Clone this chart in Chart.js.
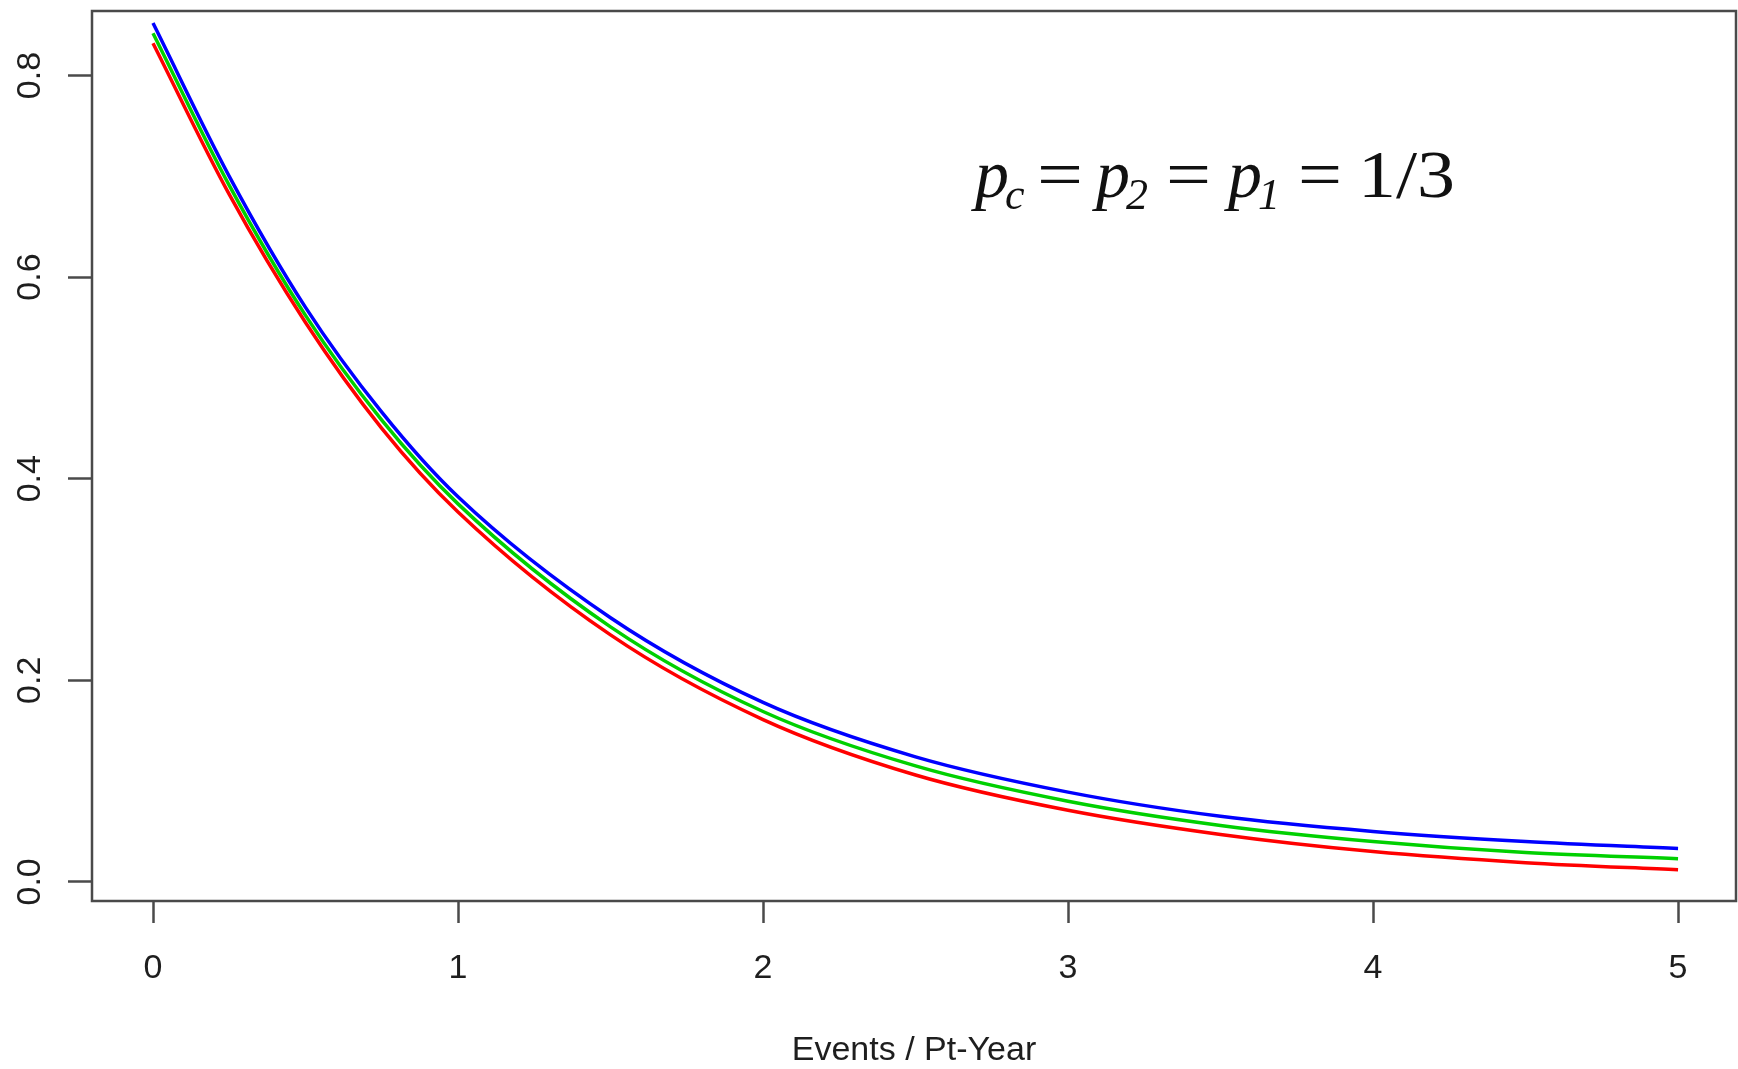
<!DOCTYPE html>
<html>
<head>
<meta charset="utf-8">
<script src="https://cdn.jsdelivr.net/npm/chart.js@4/dist/chart.umd.min.js"></script>
<style>
  html, body { margin: 0; padding: 0; background: #fff; }
  canvas { display: block; }
</style>
</head>
<body>
<canvas id="rateChart" width="1738" height="1069"></canvas>
<script>
// values
const eventRates = [0, 0.25, 0.5, 0.75, 1, 1.5, 2, 2.5, 3, 3.5, 4, 4.5, 5];
const blueSeries  = [0.852, 0.700, 0.570, 0.466, 0.382, 0.262, 0.178, 0.124, 0.089, 0.065, 0.050, 0.040, 0.033];
const greenSeries = [0.842, 0.691, 0.562, 0.458, 0.375, 0.253, 0.169, 0.115, 0.080, 0.056, 0.040, 0.029, 0.023];
const redSeries   = [0.832, 0.682, 0.555, 0.450, 0.367, 0.245, 0.161, 0.106, 0.071, 0.047, 0.030, 0.019, 0.012];
const xTicks = [0, 1, 2, 3, 4, 5];
const yTicks = [0, 0.2, 0.4, 0.6, 0.8];
const xTitle = "Events / Pt-Year";

const axisColor = '#4a4a4a';
const textColor = '#1e1e1e';
const sansFont = "'Liberation Sans', Arial, sans-serif";
const serifFont = "'Liberation Serif', 'DejaVu Serif', serif";

function toPoints(ys) {
    return eventRates.map((x, i) => ({ x: x, y: ys[i] }));
}

function lineSet(label, ys, color) {
    return {
        label: label,
        data: toPoints(ys),
        borderColor: color,
        backgroundColor: color,
        borderWidth: 3.5,
        pointRadius: 0,
        showLine: true,
        fill: false,
        cubicInterpolationMode: 'monotone'
    };
}

// formula pieces: main glyph at x, optional subscript right after it
const formulaParts = [
    { t: 'p',   x: 975,  sub: 'c' },
    { t: '=',   x: 1037, w: 46 },
    { t: 'p',   x: 1096, sub: '2' },
    { t: '=',   x: 1166, w: 45 },
    { t: 'p',   x: 1228, sub: '1' },
    { t: '=',   x: 1298, w: 44 },
    { t: '1/3', x: 1358, w: 97 }
];

// box round the plot area, rotated y labels and the formula
const extrasPlugin = {
    id: 'extras',
    afterDraw(chart) {
        const ctx = chart.ctx;
        const area = chart.chartArea;
        ctx.save();
        ctx.strokeStyle = axisColor;
        ctx.lineWidth = 2.5;
        ctx.strokeRect(area.left, area.top, area.right - area.left, area.bottom - area.top);

        // y tick labels, turned like in R
        const yScale = chart.scales.y;
        ctx.fillStyle = textColor;
        ctx.font = "34px " + sansFont;
        ctx.textAlign = 'center';
        ctx.textBaseline = 'middle';
        yTicks.forEach(v => {
            const py = yScale.getPixelForValue(v);
            ctx.save();
            ctx.translate(31, py);
            ctx.rotate(-Math.PI / 2);
            ctx.fillText(v.toFixed(1), 0, 0);
            ctx.restore();
        });

        // p_c = p_2 = p_1 = 1/3
        const baseY = 197;
        ctx.textAlign = 'left';
        ctx.textBaseline = 'alphabetic';
        ctx.fillStyle = '#111';
        formulaParts.forEach(p => {
            const isP = p.t === 'p';
            ctx.font = (isP ? 'italic ' : '') + '68px ' + serifFont;
            const natural = ctx.measureText(p.t).width;
            const sx = p.w ? p.w / natural : 1;
            ctx.save();
            ctx.translate(p.x, baseY);
            ctx.scale(sx, 1);
            ctx.fillText(p.t, 0, 0);
            ctx.restore();
            if (p.sub) {
                ctx.font = 'italic 44px ' + serifFont;
                ctx.fillText(p.sub, p.x + natural - 4, baseY + 12);
            }
        });
        ctx.restore();
    }
};

const ctx = document.getElementById('rateChart').getContext('2d');
const myChart = new Chart(ctx, {
    type: 'scatter',
    data: {
        datasets: [
            lineSet('red', redSeries, '#ff0000'),
            lineSet('green', greenSeries, '#00d000'),
            lineSet('blue', blueSeries, '#0000ff')
        ]
    },
    options: {
        responsive: false,
        animation: false,
        layout: { padding: { top: 11, right: 2, bottom: 0, left: 0 } },
        plugins: {
            legend: { display: false },
            tooltip: { enabled: false }
        },
        scales: {
            x: {
                type: 'linear',
                min: -0.2,
                max: 5.19,
                afterBuildTicks: s => { s.ticks = xTicks.map(v => ({ value: v })); },
                afterFit: s => { s.height = 168; },
                border: { display: false },
                grid: {
                    drawOnChartArea: false,
                    drawTicks: true,
                    tickLength: 22,
                    tickWidth: 2.5,
                    tickColor: axisColor
                },
                ticks: {
                    color: textColor,
                    font: { size: 34, family: sansFont },
                    padding: 25,
                    maxRotation: 0,
                    callback: v => String(v)
                },
                title: {
                    display: true,
                    text: xTitle,
                    color: textColor,
                    font: { size: 34, family: sansFont, lineHeight: 1.1 },
                    padding: { top: 0, bottom: 0 }
                }
            },
            y: {
                type: 'linear',
                min: -0.019,
                max: 0.864,
                afterBuildTicks: s => { s.ticks = yTicks.map(v => ({ value: v })); },
                afterFit: s => { s.width = 92; },
                border: { display: false },
                grid: {
                    drawOnChartArea: false,
                    drawTicks: true,
                    tickLength: 24,
                    tickWidth: 2.5,
                    tickColor: axisColor
                },
                ticks: {
                    display: true,
                    callback: () => ''
                }
            }
        }
    },
    plugins: [extrasPlugin]
});
</script>
</body>
</html>
